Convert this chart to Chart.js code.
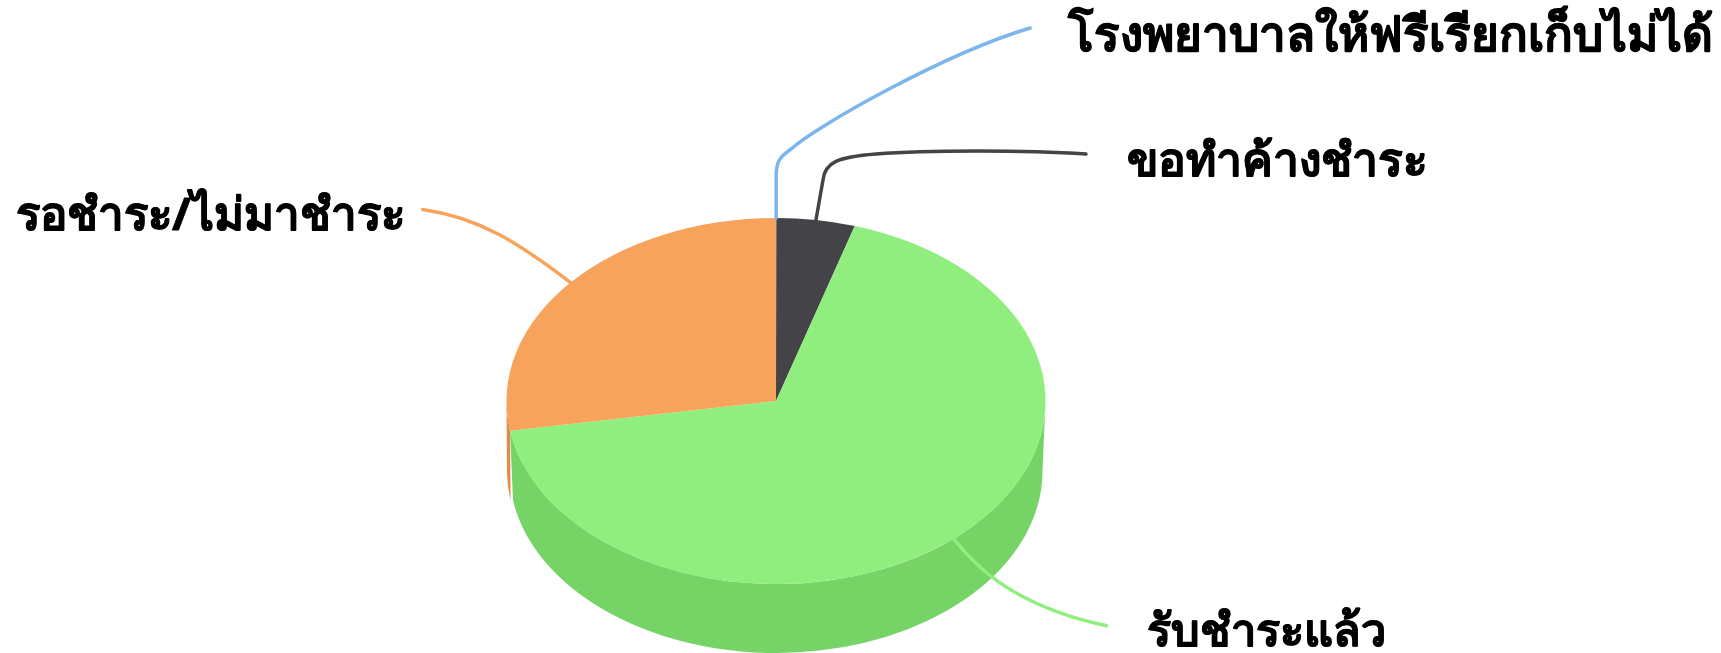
<!DOCTYPE html>
<html><head><meta charset="utf-8">
<style>html,body{margin:0;padding:0;background:#fff}#w{width:1721px;height:653px;position:relative}canvas{filter:blur(0.5px)}</style>
</head><body><div id="w"><canvas id="c"></canvas></div>
<script src="https://cdn.jsdelivr.net/npm/chart.js@4"></script>
<script>
const categories = ['โรงพยาบาลให้ฟรีเรียกเก็บไม่ได้','ขอทำค้างชำระ','รับชำระแล้ว','รอชำระ/ไม่มาชำระ'];
const shares = [0.02, 4.7, 67.7, 27.6];
const topColors = ['#7CB5EC','#434348','#90EE7E','#F7A35C'];
const sideColors = ['#6AA3DA','#343438','#76D466','#E08A4C'];

const FAMILY = '"Noto Sans", "DejaVu Sans", sans-serif';
const XS = 269.5/183;      // horizontal stretch of the tilted disc
const DEPTH = 70;

// label geometry per slice: text anchor + leader segments relative to the slice's rim point
const leaders = [
  {tx:1068, ty:51,  size:47.5, align:'left',
   start:[0,-42], curves:[[[0,-58],[5,-62],[15,-69]],[[40,-92],[170,-165],[254,-190]]]},
  {tx:1127, ty:176, size:46, align:'left',
   start:[7,-40], curves:[[[9,-58],[22,-63],[60,-66]],[[110,-70],[210,-70],[270,-66]]]},
  {tx:1147, ty:646, size:45, align:'left',
   start:[0,0], curves:[[[15,18],[50,65],[153,87]]]},
  {tx:405,  ty:230, size:45.5, align:'right',
   start:[0,0], curves:[[[-50,-38],[-90,-65],[-148,-73]]]}
];

const disc3d = {
  id:'disc3d',
  beforeDatasetsDraw(chart){
    const arcs = chart.getDatasetMeta(0).data, ctx = chart.ctx;
    const {x:cx,y:cy,outerRadius:r} = arcs[0];
    const rx = r*XS, bx = rx-3;
    const TAU = Math.PI*2;
    ctx.save();
    // orange sliver is painted first so that the green wall sits in front of it
    [3,2,1,0].forEach(i=>{
      const a = arcs[i];
      let s = ((a.startAngle%TAU)+TAU)%TAU;
      let e = s + (a.endAngle-a.startAngle);
      // visible wall = part of the slice on the lower half [0,PI] or [2PI,3PI]
      [[0,Math.PI],[TAU,3*Math.PI]].forEach(([lo,hi])=>{
        const from = Math.max(s,lo), to = Math.min(e,hi);
        if(to<=from) return;
        ctx.beginPath();
        ctx.ellipse(cx,cy,rx,r,0,from,to);
        ctx.ellipse(cx,cy+DEPTH,i===3?rx-0.5:bx,r-1,0,to,from,true);
        ctx.closePath();
        ctx.fillStyle = sideColors[i];
        ctx.fill();
      });
    });
    ctx.restore();
    ctx.save();
    ctx.translate(cx,cy); ctx.scale(XS,1); ctx.translate(-cx,-cy);
  },
  afterDatasetsDraw(chart){
    chart.ctx.restore();
    const arcs = chart.getDatasetMeta(0).data, ctx = chart.ctx;
    ctx.save();
    ctx.lineWidth = 3.5; ctx.lineCap='round'; ctx.lineJoin='round';
    arcs.forEach((a,i)=>{
      const m = (a.startAngle+a.endAngle)/2;
      const x0 = a.x + Math.cos(m)*a.outerRadius*XS, y0 = a.y + Math.sin(m)*a.outerRadius;
      const L = leaders[i];
      ctx.beginPath(); ctx.moveTo(x0,y0);
      ctx.lineTo(x0+L.start[0],y0+L.start[1]);
      L.curves.forEach(([c1,c2,p])=>ctx.bezierCurveTo(x0+c1[0],y0+c1[1],x0+c2[0],y0+c2[1],x0+p[0],y0+p[1]));
      ctx.strokeStyle = topColors[i]; ctx.stroke();
      ctx.fillStyle = '#000'; ctx.strokeStyle='#000'; ctx.lineWidth=0.8;
      ctx.font = 'bold '+L.size+'px '+FAMILY;
      ctx.textAlign = L.align; ctx.textBaseline='alphabetic';
      ctx.fillText(categories[i],L.tx,L.ty);
      ctx.strokeText(categories[i],L.tx,L.ty);
      ctx.lineWidth = 3.5;
    });
    ctx.restore();
  }
};

new Chart(document.getElementById('c'),{
  type:'pie',
  data:{labels:categories,datasets:[{data:shares,backgroundColor:topColors,borderWidth:0}]},
  options:{
    responsive:true,maintainAspectRatio:false,animation:false,
    layout:{padding:{top:218,bottom:69,left:400,right:569}},
    plugins:{legend:{display:false},tooltip:{enabled:false},title:{display:false}}
  },
  plugins:[disc3d]
});
</script></body></html>
